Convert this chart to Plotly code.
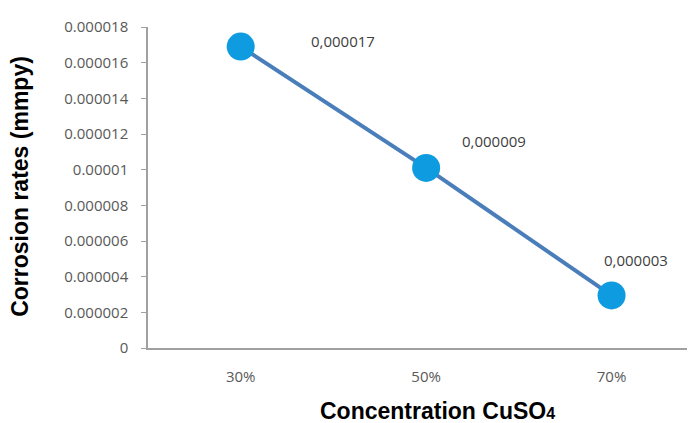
import plotly.graph_objects as go

categories = ["30%", "50%", "70%"]
corrosion_rate = [1.69e-5, 1.01e-5, 2.95e-6]
point_labels = ["0,000017", "0,000009", "0,000003"]
y_tick_vals = [0, 2e-6, 4e-6, 6e-6, 8e-6, 1e-5, 1.2e-5, 1.4e-5, 1.6e-5, 1.8e-5]
y_tick_text = ["0", "0.000002", "0.000004", "0.000006", "0.000008", "0.00001",
               "0.000012", "0.000014", "0.000016", "0.000018"]

# pixel offsets of the data labels relative to their points
label_dx = [102, 68, 24]
label_dy = [6, 27, 35]

fig = go.Figure()
fig.add_trace(go.Scatter(
    x=[0, 1, 2], y=corrosion_rate, mode="lines+markers",
    line=dict(color="#4A7EBB", width=4),
    marker=dict(size=28, color="#0F9BE0"),
    showlegend=False, hoverinfo="skip",
))

for i, (v, t) in enumerate(zip(corrosion_rate, point_labels)):
    fig.add_annotation(x=i, y=v, xref="x", yref="y", text=t, showarrow=False,
                       xshift=label_dx[i], yshift=label_dy[i],
                       font=dict(family="Open Sans", size=15, color="#404040"))

fig.add_annotation(text="Corrosion rates (mmpy)", xref="paper", yref="paper",
                   x=-0.234, y=0.502, xanchor="center", yanchor="middle",
                   textangle=-90, showarrow=False,
                   font=dict(family="Liberation Sans", size=23, color="#000000", weight="bold"))
fig.add_annotation(text="Concentration CuSO<span style='font-size:16px'>4</span>",
                   xref="paper", yref="paper",
                   x=0.53, y=-0.195, xanchor="center", yanchor="middle",
                   showarrow=False,
                   font=dict(family="Liberation Sans", size=23, color="#000000", weight="bold"))

fig.update_xaxes(range=[-0.5, 2.45], tickvals=[0, 1, 2], ticktext=categories,
                 showgrid=False, zeroline=False, showline=True, linecolor="#A0A0A0",
                 linewidth=1.5, ticks="", ticklabelstandoff=14,
                 tickfont=dict(family="Open Sans", size=15, color="#595959"))
fig.update_yaxes(range=[0, 1.8e-5], tickvals=y_tick_vals, ticktext=y_tick_text,
                 showgrid=False, zeroline=False, showline=True, linecolor="#A0A0A0",
                 linewidth=1.5, ticks="outside", ticklen=5, tickcolor="#A0A0A0",
                 ticklabelstandoff=10,
                 tickfont=dict(family="Open Sans", size=15, color="#595959"))

fig.update_layout(width=695, height=423, margin=dict(l=140, r=8, t=17, b=83),
                  paper_bgcolor="white", plot_bgcolor="white")

fig.write_html("out.html")
